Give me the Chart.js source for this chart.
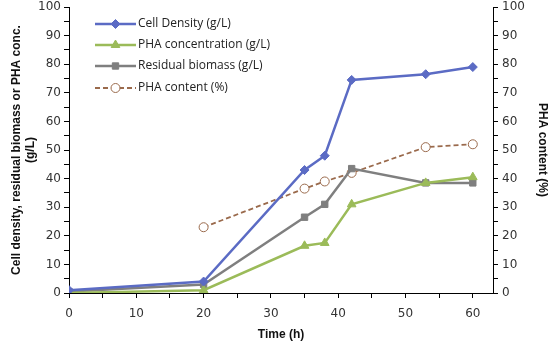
<!DOCTYPE html>
<html>
<head>
<meta charset="utf-8">
<script src="https://cdn.jsdelivr.net/npm/chart.js@4"></script>
<style>
  html, body { margin: 0; padding: 0; background: #fff; }
  #wrap { width: 550px; height: 342px; }
</style>
</head>
<body>
<div id="wrap"><canvas id="c" width="550" height="342"></canvas></div>
<script>
// — veriler —
const timeH = [0, 20, 35, 38, 42, 53, 60];
const cellDensity = [1, 4, 43, 48, 74.5, 76.5, 79];
const phaConc = [0, 1, 16.5, 17.5, 31, 38.5, 40.5];
const residualBiomass = [0.5, 3, 26.5, 31, 43.5, 38.5, 38.5];
const phaContent = [null, 23, 36.5, 39, 42, 51, 52];

const seriesNames = ['Cell Density (g/L)', 'PHA concentration (g/L)', 'Residual biomass (g/L)', 'PHA content (%)'];

function pts(ys) {
  return timeH.map((x, i) => ({ x: x, y: ys[i] }));
}

const tickFont = { family: 'DejaVu Sans', size: 12 };
const titleFont = { family: 'Liberation Sans', size: 12, weight: 'bold' };

// — legend inside the plot —
const innerLegend = {
  id: 'innerLegend',
  afterDraw(chart) {
    const ctx = chart.ctx;
    const x0 = 95, x1 = 136;
    const rows = [24, 45, 66, 88];
    chart.data.datasets.forEach((ds, i) => {
      const y = rows[i];
      ctx.save();
      ctx.strokeStyle = ds.borderColor;
      ctx.lineWidth = ds.borderWidth;
      ctx.setLineDash(ds.borderDash || []);
      ctx.beginPath();
      ctx.moveTo(x0, y);
      ctx.lineTo(x1, y);
      ctx.stroke();
      ctx.setLineDash([]);
      ctx.fillStyle = ds.pointBackgroundColor;
      ctx.strokeStyle = ds.pointBorderColor;
      ctx.lineWidth = ds.pointBorderWidth || 1;
      Chart.helpers.drawPoint(ctx, {
        pointStyle: ds.pointStyle,
        radius: ds.pointRadius,
        borderWidth: ds.pointBorderWidth || 1
      }, (x0 + x1) / 2, y);
      ctx.fillStyle = '#222';
      ctx.font = '12px "Open Sans"';
      ctx.textBaseline = 'middle';
      ctx.fillText(seriesNames[i], x1 + 2, y);
      ctx.restore();
    });
  }
};

const minorLabel = v => (v % 10 === 0 ? v : '');

// dikey eksenlerde etiket boşluğunu sabitle
function fixVert(w) {
  return s => {
    s.width = w;
    s.paddingTop = 7;
    s.paddingBottom = 0;
  };
}

new Chart(document.getElementById('c'), {
  type: 'line',
  data: {
    datasets: [
      {
        label: seriesNames[0], data: pts(cellDensity), yAxisID: 'y',
        borderColor: '#5b6bc4', backgroundColor: '#5b6bc4', borderWidth: 2.5,
        pointStyle: 'rectRot', pointRadius: 4.5, pointBackgroundColor: '#5b6bc4',
        pointBorderColor: '#5b6bc4', pointBorderWidth: 1
      },
      {
        label: seriesNames[1], data: pts(phaConc), yAxisID: 'y',
        borderColor: '#9bbb59', backgroundColor: '#9bbb59', borderWidth: 2.5,
        pointStyle: 'triangle', pointRadius: 5, pointBackgroundColor: '#9bbb59',
        pointBorderColor: '#9bbb59', pointBorderWidth: 1
      },
      {
        label: seriesNames[2], data: pts(residualBiomass), yAxisID: 'y',
        borderColor: '#7f7f7f', backgroundColor: '#7f7f7f', borderWidth: 2.5,
        pointStyle: 'rect', pointRadius: 4.5, pointBackgroundColor: '#7f7f7f',
        pointBorderColor: '#7f7f7f', pointBorderWidth: 1
      },
      {
        label: seriesNames[3], data: pts(phaContent), yAxisID: 'y2',
        borderColor: '#9a6a4c', backgroundColor: '#fff', borderWidth: 1.8, borderDash: [5, 3],
        pointStyle: 'circle', pointRadius: 4.5, pointBackgroundColor: '#fff',
        pointBorderColor: '#9a6a4c', pointBorderWidth: 1
      }
    ]
  },
  options: {
    responsive: false,
    animation: false,
    layout: { padding: 0 },
    plugins: { legend: { display: false }, tooltip: { enabled: false } },
    scales: {
      x: {
        type: 'linear', min: 0, max: 63,
        ticks: { stepSize: 5, includeBounds: false, callback: minorLabel, color: '#333', font: tickFont, padding: 9, maxRotation: 0, autoSkip: false },
        grid: { drawOnChartArea: false, tickLength: 5, color: '#000' },
        border: { color: '#000', width: 1 },
        title: { display: true, text: 'Time (h)', font: titleFont, color: '#111', padding: { top: 2, bottom: 0 } },
        afterFit: s => { s.height = 49; }
      },
      y: {
        position: 'left', min: 0, max: 100,
        ticks: { stepSize: 5, callback: minorLabel, color: '#333', font: tickFont, padding: 3, autoSkip: false },
        grid: { drawOnChartArea: false, tickLength: 5, color: '#000' },
        border: { color: '#000', width: 1 },
        title: { display: true, text: ['Cell density, residual biomass or PHA conc.', '(g/L)'], font: titleFont, color: '#111', padding: { top: 9, bottom: 0 } },
        afterFit: fixVert(69)
      },
      y2: {
        position: 'right', min: 0, max: 100,
        ticks: { stepSize: 5, callback: minorLabel, color: '#333', font: tickFont, padding: 4, autoSkip: false },
        grid: { drawOnChartArea: false, tickLength: 5, color: '#000' },
        border: { color: '#000', width: 1 },
        title: { display: true, text: 'PHA content (%)', font: titleFont, color: '#111', padding: { top: 0, bottom: 3 } },
        afterFit: fixVert(57)
      }
    }
  },
  plugins: [innerLegend]
});
</script>
</body>
</html>
